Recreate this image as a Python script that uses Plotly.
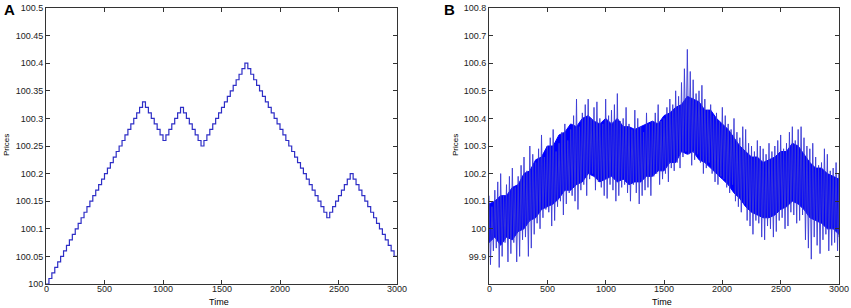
import plotly.graph_objects as go

# ---------------- Panel A data: price level (hundredths above 100) per 25-time step ----------------
step_len = 25
levels_a = [0, 1, 2, 3, 4, 5, 6, 7, 8, 9, 10, 11, 12, 13, 14, 15, 16, 17, 18, 19, 20,
            21, 22, 23, 24, 25, 26, 27, 28, 29, 30, 31, 32, 33,
            32, 31, 30, 29, 28, 27, 26,
            27, 28, 29, 30, 31, 32,
            31, 30, 29, 28, 27, 26, 25,
            26, 27, 28, 29, 30, 31, 32, 33, 34, 35, 36, 37, 38, 39, 40,
            39, 38, 37, 36, 35, 34, 33, 32, 31, 30, 29, 28, 27, 26, 25, 24, 23, 22, 21, 20,
            19, 18, 17, 16, 15, 14, 13, 12,
            13, 14, 15, 16, 17, 18, 19, 20,
            19, 18, 17, 16, 15, 14, 13, 12, 11, 10, 9, 8, 7, 6, 5]

a_yticks = [100, 100.05, 100.1, 100.15, 100.2, 100.25, 100.3, 100.35, 100.4, 100.45, 100.5]
a_yticktext = ["100", "100.05", "100.1", "100.15", "100.2", "100.25", "100.3", "100.35",
               "100.4", "100.45", "100.5"]

# ---------------- Panel B data ----------------
# spike extremes every 25 time units
b_times = [0, 25, 50, 75, 100, 125, 150, 175, 200, 225, 250, 275, 300, 325, 350, 375,
           400, 425, 450, 475, 500, 525, 550, 575, 600, 625, 650, 675, 700, 725, 750, 775,
           800, 825, 850, 875, 900, 925, 950, 975, 1000, 1025, 1050, 1075, 1100, 1125,
           1150, 1175, 1200, 1225, 1250, 1275, 1300, 1325, 1350, 1375, 1400, 1425, 1450,
           1475, 1500, 1525, 1550, 1575, 1600, 1625, 1650, 1675, 1700, 1725, 1750, 1775,
           1800, 1825, 1850, 1875, 1900, 1925, 1950, 1975, 2000, 2025, 2050, 2075, 2100,
           2125, 2150, 2175, 2200, 2225, 2250, 2275, 2300, 2325, 2350, 2375, 2400, 2425,
           2450, 2475, 2500, 2525, 2550, 2575, 2600, 2625, 2650, 2675, 2700, 2725, 2750,
           2775, 2800, 2825, 2850, 2875, 2900, 2925, 2950, 2975, 3000]
b_spike_hi = [100.12, 100.08, 100.14, 100.17, 100.20, 100.12, 100.16, 100.19, 100.22, 100.15,
              100.19, 100.23, 100.26, 100.21, 100.30, 100.27, 100.24, 100.29, 100.34, 100.26,
              100.30, 100.33, 100.36, 100.28, 100.31, 100.35, 100.38, 100.32, 100.36, 100.41,
              100.47, 100.37, 100.42, 100.45, 100.47, 100.40, 100.44, 100.46, 100.40, 100.38,
              100.47, 100.41, 100.43, 100.45, 100.49, 100.39, 100.40, 100.44, 100.38, 100.36,
              100.43, 100.40, 100.37, 100.35, 100.42, 100.38, 100.39, 100.42, 100.45, 100.39,
              100.40, 100.44, 100.47, 100.45, 100.50, 100.48, 100.53, 100.58, 100.65, 100.57,
              100.54, 100.49, 100.50, 100.52, 100.47, 100.43, 100.45, 100.41, 100.42, 100.39,
              100.44, 100.41, 100.38, 100.36, 100.40, 100.35, 100.33, 100.37, 100.36, 100.31,
              100.30, 100.28, 100.32, 100.30, 100.29, 100.27, 100.31, 100.28, 100.30, 100.32,
              100.34, 100.29, 100.31, 100.35, 100.37, 100.32, 100.36, 100.37, 100.33, 100.30,
              100.29, 100.31, 100.26, 100.23, 100.24, 100.29, 100.27, 100.21, 100.22, 100.24,
              100.20]
b_spike_lo = [99.87, 99.92, 99.93, 99.86, 99.90, 99.95, 99.88, 99.91, 99.95, 99.88,
              99.90, 99.96, 99.97, 99.90, 99.93, 99.98, 100.02, 100.00, 100.04, 100.07,
              100.06, 100.01, 100.03, 100.08, 100.10, 100.05, 100.09, 100.13, 100.12, 100.10,
              100.07, 100.14, 100.16, 100.12, 100.18, 100.20, 100.14, 100.17, 100.15, 100.12,
              100.11, 100.16, 100.14, 100.10, 100.12, 100.15, 100.16, 100.13, 100.10, 100.16,
              100.13, 100.09, 100.12, 100.14, 100.15, 100.12, 100.19, 100.20, 100.16, 100.18,
              100.20, 100.17, 100.22, 100.21, 100.24, 100.22, 100.26, 100.28, 100.27, 100.23,
              100.25, 100.27, 100.24, 100.20, 100.22, 100.24, 100.20, 100.17, 100.16, 100.19,
              100.18, 100.15, 100.13, 100.16, 100.10, 100.08, 100.06, 100.09, 100.03, 100.01,
              99.98, 100.03, 100.02, 99.97, 99.96, 100.01, 100.00, 99.97, 99.99, 100.03,
              100.04, 100.00, 100.01, 100.06, 100.05, 100.02, 100.03, 100.05, 99.96, 99.93,
              99.89, 99.97, 99.94, 99.91, 99.96, 99.98, 99.92, 99.94, 99.95, 99.92,
              99.97]
# solid (dense) core band every 50 time units
b_core_t = [0, 50, 100, 150, 200, 250, 300, 350, 400, 450, 500, 550, 600, 650, 700, 750,
            800, 850, 900, 950, 1000, 1050, 1100, 1150, 1200, 1250, 1300, 1350, 1400, 1450,
            1500, 1550, 1600, 1650, 1700, 1750, 1800, 1850, 1900, 1950, 2000, 2050, 2100,
            2150, 2200, 2250, 2300, 2350, 2400, 2450, 2500, 2550, 2600, 2650, 2700, 2750,
            2800, 2850, 2900, 2950, 3000]
b_core_lo = [99.95, 99.97, 99.94, 99.97, 99.96, 99.99, 100.00, 100.03, 100.04, 100.07,
             100.08, 100.09, 100.11, 100.14, 100.14, 100.16, 100.17, 100.20, 100.19, 100.17,
             100.18, 100.19, 100.17, 100.18, 100.16, 100.17, 100.17, 100.19, 100.19, 100.21,
             100.21, 100.24, 100.24, 100.28, 100.27, 100.28, 100.25, 100.24, 100.22, 100.20,
             100.18, 100.16, 100.13, 100.11, 100.08, 100.06, 100.05, 100.04, 100.04, 100.05,
             100.07, 100.08, 100.10, 100.09, 100.07, 100.04, 100.03, 100.02, 100.00, 100.00,
             99.98]
b_core_hi = [100.09, 100.10, 100.12, 100.12, 100.15, 100.16, 100.20, 100.21, 100.25, 100.26,
             100.30, 100.30, 100.34, 100.35, 100.38, 100.37, 100.40, 100.41, 100.39, 100.38,
             100.40, 100.38, 100.40, 100.37, 100.37, 100.36, 100.37, 100.38, 100.39, 100.38,
             100.41, 100.42, 100.44, 100.45, 100.48, 100.47, 100.46, 100.43, 100.43, 100.40,
             100.38, 100.36, 100.33, 100.30, 100.28, 100.26, 100.26, 100.24, 100.25, 100.26,
             100.28, 100.28, 100.31, 100.30, 100.27, 100.24, 100.22, 100.22, 100.20, 100.19,
             100.18]

b_yticks = [99.9, 100, 100.1, 100.2, 100.3, 100.4, 100.5, 100.6, 100.7, 100.8]
b_yticktext = ["99.9", "100", "100.1", "100.2", "100.3", "100.4", "100.5", "100.6",
               "100.7", "100.8"]

x_ticks = [0, 500, 1000, 1500, 2000, 2500, 3000]
x_ticktext = ["0", "500", "1000", "1500", "2000", "2500", "3000"]

# ---------------- Build traces ----------------
xa = [i * step_len for i in range(len(levels_a))] + [3000]
ya = [100 + v / 100 for v in levels_a] + [100 + levels_a[-1] / 100]

fig = go.Figure()
fig.add_trace(go.Scatter(x=xa, y=ya, mode="lines", line=dict(color="#2e2ec6", width=1.2, shape="hv"),
                         xaxis="x", yaxis="y", showlegend=False, hoverinfo="skip"))

# dense core band of panel B
poly_x = b_core_t + b_core_t[::-1]
poly_y = b_core_hi + b_core_lo[::-1]
fig.add_trace(go.Scatter(x=poly_x, y=poly_y, mode="lines", fill="toself", fillcolor="#0000ff",
                         line=dict(color="#0000ff", width=1), xaxis="x2", yaxis="y2",
                         showlegend=False, hoverinfo="skip"))
# spikes (zigzag between upper and lower extremes)
zx, zy = [], []
for t, h, l in zip(b_times, b_spike_hi, b_spike_lo):
    zx += [t, min(t + 12.5, 3000)]
    zy += [h, l]
fig.add_trace(go.Scatter(x=zx, y=zy, mode="lines", line=dict(color="#3a3ad6", width=0.9),
                         xaxis="x2", yaxis="y2", showlegend=False, hoverinfo="skip"))

tick_font = dict(family="Liberation Sans, Arial", size=9, color="#222222")
axis_common = dict(showline=True, linecolor="#333333", linewidth=1, mirror="ticks",
                   ticks="inside", ticklen=4, tickcolor="#333333", showgrid=False,
                   zeroline=False, automargin=False, tickfont=tick_font)

L, R, T, B = 46, 12, 8, 24
W, H = 851, 308
pw = W - L - R
ph = H - T - B
xr1 = (397 - L) / pw
xl2 = (489 - L) / pw

fig.update_layout(
    width=W, height=H,
    margin=dict(l=L, r=R, t=T, b=B, pad=0),
    paper_bgcolor="white", plot_bgcolor="white",
    xaxis=dict(domain=[0, xr1], range=[0, 3000], tickvals=x_ticks, showticklabels=False,
               anchor="y", **axis_common),
    yaxis=dict(domain=[0, 1], range=[100, 100.5], tickvals=a_yticks, ticktext=a_yticktext,
               anchor="x", **axis_common),
    xaxis2=dict(domain=[xl2, 1], range=[0, 3000], tickvals=x_ticks, showticklabels=False,
                anchor="y2", **axis_common),
    yaxis2=dict(domain=[0, 1], range=[99.8, 100.8], tickvals=b_yticks, ticktext=b_yticktext,
                anchor="x2", **axis_common),
)


def px_ann(text, px, py, size, rot=0, bold=False):
    return dict(text=("<b>%s</b>" % text) if bold else text,
                x=(px - L) / pw, y=(H - B - py) / ph, xref="paper", yref="paper",
                xanchor="center", yanchor="middle", showarrow=False, textangle=rot,
                font=dict(family="Liberation Sans, Arial", size=size, color="black"))


anns = [
    px_ann("A", 9, 9, 15, bold=True),
    px_ann("B", 449, 9, 15, bold=True),
    px_ann("Prices", 6, 145, 8, rot=-90),
    px_ann("Prices", 455, 145, 8, rot=-90),
    px_ann("Time", 219, 302, 9),
    px_ann("Time", 662, 302, 9),
]
# x tick labels placed through the x axes
label_y = (H - B - 289) / ph
for xref in ("x", "x2"):
    for v, txt in zip(x_ticks, x_ticktext):
        anns.append(dict(text=txt, x=v, xref=xref, y=label_y, yref="paper",
                         xanchor="center", yanchor="middle", showarrow=False,
                         font=tick_font))

fig.update_layout(annotations=anns)

fig.write_html(
    "out.html",
    config={"displayModeBar": False},
    post_script="document.body.style.margin='0';document.body.style.overflow='hidden';"
                "document.documentElement.style.overflow='hidden';",
)
